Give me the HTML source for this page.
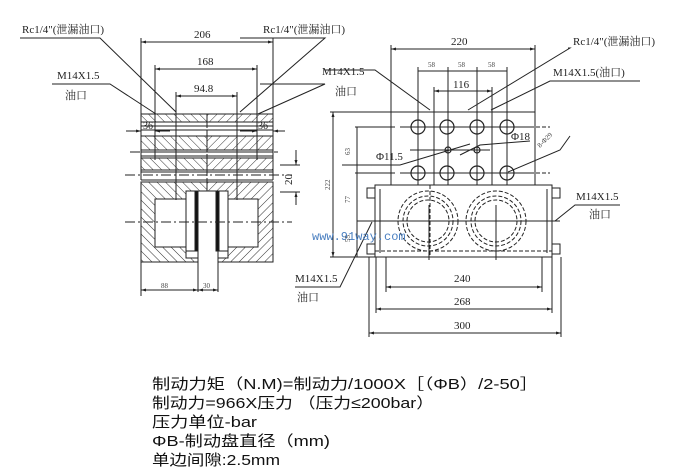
<!DOCTYPE html>
<html><head><meta charset="utf-8"><style>
html,body{margin:0;padding:0;background:#fff;width:693px;height:471px;overflow:hidden}
svg{display:block}
.t{font-family:"Liberation Serif","Noto Serif CJK SC",serif;font-size:11px;fill:#222}
.s{font-family:"Liberation Serif",serif;font-size:7px;fill:#444}
.f{font-family:"Liberation Sans","Noto Sans CJK SC",sans-serif;font-size:15px;fill:#111}
</style></head><body>
<svg width="693" height="471" viewBox="0 0 693 471" xmlns="http://www.w3.org/2000/svg">
<defs>
<pattern id="h1" width="6" height="6" patternUnits="userSpaceOnUse" patternTransform="rotate(45)"><line x1="0" y1="0" x2="0" y2="6" stroke="#333" stroke-width="1"/></pattern>
<pattern id="h2" width="6" height="6" patternUnits="userSpaceOnUse" patternTransform="rotate(-45)"><line x1="0" y1="0" x2="0" y2="6" stroke="#333" stroke-width="1"/></pattern>
<marker id="a" viewBox="0 0 10 10" refX="10" refY="5" markerWidth="7" markerHeight="5" orient="auto-start-reverse"><path d="M0,2 L10,5 L0,8z" fill="#222"/></marker>
</defs>
<g stroke="#222" stroke-width="1" fill="none">
<rect x="141" y="114" width="66" height="8" fill="url(#h2)"/>
<rect x="207" y="114" width="66" height="8" fill="url(#h1)"/>
<rect x="141" y="136" width="66" height="14" fill="url(#h2)"/>
<rect x="207" y="136" width="66" height="14" fill="url(#h1)"/>
<rect x="141" y="158" width="66" height="12" fill="url(#h2)"/>
<rect x="207" y="158" width="66" height="12" fill="url(#h1)"/>
<line x1="141" y1="126" x2="273" y2="126"/><line x1="141" y1="130" x2="273" y2="130"/>
<line x1="141" y1="152" x2="273" y2="152"/><line x1="141" y1="156" x2="273" y2="156"/>
<line x1="141" y1="172" x2="273" y2="172"/><line x1="141" y1="180" x2="273" y2="180"/>
<line x1="141" y1="114" x2="141" y2="180"/><line x1="273" y1="114" x2="273" y2="180"/>
<path d="M141,182 H207 V191 H186 V258 H198 V262 H141 Z" fill="url(#h2)"/>
<path d="M273,182 H207 V191 H228 V258 H218 V262 H273 Z" fill="url(#h1)"/>
<path d="M155,199 H186 V247 H155 Z" fill="#fff"/>
<path d="M228,199 H258 V247 H228 Z" fill="#fff"/>
<rect x="186" y="191" width="9" height="60" fill="#fff"/>
<rect x="219" y="191" width="9" height="60" fill="#fff"/>
<rect x="195" y="191" width="3" height="60" fill="#111"/>
<rect x="216" y="191" width="3" height="60" fill="#111"/>
<line x1="198" y1="250" x2="198" y2="292"/><line x1="218" y1="250" x2="218" y2="292"/>
<line x1="207" y1="114" x2="207" y2="191" stroke-dasharray="6,2"/>
<line x1="125" y1="222" x2="292" y2="222" stroke-dasharray="10,3,2,3"/>
<line x1="125" y1="175" x2="292" y2="175" stroke-dasharray="10,3,2,3"/>
<line x1="130" y1="152" x2="278" y2="152" stroke-dasharray="10,3,2,3"/>
<line x1="176" y1="92" x2="176" y2="200"/><line x1="237" y1="92" x2="237" y2="200"/>
<line x1="155" y1="65" x2="155" y2="160"/><line x1="257" y1="65" x2="257" y2="160"/>
<line x1="141" y1="38" x2="141" y2="114"/><line x1="273" y1="38" x2="273" y2="114"/>
<line x1="141" y1="42" x2="273" y2="42" marker-start="url(#a)" marker-end="url(#a)"/>
<line x1="155" y1="69" x2="257" y2="69" marker-start="url(#a)" marker-end="url(#a)"/>
<line x1="176" y1="96" x2="237" y2="96" marker-start="url(#a)" marker-end="url(#a)"/>
<line x1="126" y1="131" x2="141" y2="131" marker-end="url(#a)"/><line x1="170" y1="131" x2="155" y2="131" marker-end="url(#a)"/>
<line x1="240" y1="131" x2="257" y2="131" marker-end="url(#a)"/><line x1="285" y1="131" x2="273" y2="131" marker-end="url(#a)"/>
<line x1="296" y1="150" x2="296" y2="165" marker-end="url(#a)"/><line x1="296" y1="205" x2="296" y2="192" marker-end="url(#a)"/>
<line x1="280" y1="165" x2="300" y2="165"/><line x1="280" y1="192" x2="300" y2="192"/>
<line x1="141" y1="262" x2="141" y2="296"/>
<line x1="141" y1="290" x2="198" y2="290" marker-start="url(#a)" marker-end="url(#a)"/>
<line x1="198" y1="290" x2="218" y2="290" marker-start="url(#a)" marker-end="url(#a)"/>
<polyline points="20,38 100,38 176,112"/>
<polyline points="52,84 110,84 156,114"/>
<polyline points="240,38 325,38 240,112"/>
<polyline points="260,84 325,84 258,114"/>
<rect x="391" y="112" width="144" height="73"/>
<rect x="375" y="185" width="177" height="72"/>
<line x1="375" y1="185" x2="552" y2="185" stroke-dasharray="4,2"/>
<line x1="375" y1="251" x2="552" y2="251" stroke-dasharray="4,2"/>
<rect x="367" y="188" width="8" height="10"/><rect x="367" y="244" width="8" height="10"/>
<rect x="552" y="188" width="8" height="10"/><rect x="552" y="244" width="8" height="10"/>
<line x1="380" y1="189" x2="380" y2="253"/><line x1="547" y1="189" x2="547" y2="253"/>
<g stroke-dasharray="4,2">
<circle cx="428" cy="221" r="30"/><circle cx="428" cy="221" r="25"/><circle cx="428" cy="221" r="21"/>
<circle cx="496" cy="221" r="30"/><circle cx="496" cy="221" r="25"/><circle cx="496" cy="221" r="21"/>
<line x1="430" y1="185" x2="430" y2="257"/>
</g>
<line x1="357" y1="221" x2="560" y2="221"/>
<line x1="429" y1="205" x2="429" y2="260"/><line x1="496" y1="205" x2="496" y2="260"/>
<g stroke-width="1.2">
<circle cx="418" cy="127" r="7"/><circle cx="447" cy="127" r="7"/><circle cx="477" cy="127" r="7"/><circle cx="507" cy="127" r="7"/>
<circle cx="418" cy="173" r="7"/><circle cx="447" cy="173" r="7"/><circle cx="477" cy="173" r="7"/><circle cx="507" cy="173" r="7"/>
<circle cx="448" cy="150" r="3"/><circle cx="477" cy="150" r="3"/>
</g>
<line x1="355" y1="127" x2="395" y2="127"/><line x1="400" y1="127" x2="530" y2="127"/><line x1="530" y1="127" x2="550" y2="127" stroke-dasharray="4,2"/>
<line x1="355" y1="173" x2="395" y2="173"/><line x1="400" y1="173" x2="530" y2="173"/><line x1="530" y1="173" x2="550" y2="173" stroke-dasharray="4,2"/>
<line x1="410" y1="150" x2="490" y2="150"/>
<line x1="418" y1="67" x2="418" y2="185"/><line x1="448" y1="67" x2="448" y2="185"/><line x1="477" y1="67" x2="477" y2="185"/><line x1="507" y1="67" x2="507" y2="185"/>
<line x1="434" y1="87" x2="434" y2="185"/><line x1="492" y1="87" x2="492" y2="185"/>
<line x1="391" y1="45" x2="391" y2="112"/><line x1="535" y1="45" x2="535" y2="112"/>
<line x1="391" y1="49" x2="535" y2="49" marker-start="url(#a)" marker-end="url(#a)"/>
<line x1="418" y1="71" x2="507" y2="71"/>
<line x1="434" y1="91" x2="492" y2="91" marker-start="url(#a)" marker-end="url(#a)"/>
<line x1="330" y1="112" x2="391" y2="112"/><line x1="330" y1="257" x2="375" y2="257"/>
<line x1="333" y1="112" x2="333" y2="257" marker-start="url(#a)" marker-end="url(#a)"/>
<line x1="357" y1="127" x2="357" y2="257"/>
<line x1="386" y1="257" x2="386" y2="292"/><line x1="542" y1="257" x2="542" y2="292"/>
<line x1="376" y1="257" x2="376" y2="313"/><line x1="552" y1="257" x2="552" y2="313"/>
<line x1="369" y1="257" x2="369" y2="337"/><line x1="561" y1="257" x2="561" y2="337"/>
<line x1="386" y1="287" x2="542" y2="287" marker-start="url(#a)" marker-end="url(#a)"/>
<line x1="376" y1="309" x2="552" y2="309" marker-start="url(#a)" marker-end="url(#a)"/>
<line x1="369" y1="333" x2="561" y2="333" marker-start="url(#a)" marker-end="url(#a)"/>
<polyline points="325,70 375,70 430,110"/>
<polyline points="568,48 570,48 468,110"/>
<polyline points="640,81 550,81 491,110"/>
<polyline points="342,165 400,165 470,144"/>
<polyline points="530,141 480,145 460,155"/>
<polyline points="570,136 560,150 508,172"/>
<polyline points="620,205 575,205 555,221"/>
<polyline points="295,287 340,287 372,222"/>
</g>
<g class="t">
<text x="22" y="33">Rc1/4"(泄漏油口)</text>
<text x="57" y="79">M14X1.5</text><text x="65" y="99">油口</text>
<text x="194" y="38">206</text><text x="197" y="65">168</text><text x="194" y="92">94.8</text>
<text x="143" y="129" font-size="10">36</text><text x="258" y="129" font-size="10">36</text>
<text x="292" y="185" transform="rotate(-90 292 185)">20</text>
<text x="263" y="33">Rc1/4"(泄漏油口)</text>
<text x="322" y="75">M14X1.5</text><text x="335" y="95">油口</text>
<text x="451" y="45">220</text><text x="453" y="88">116</text>
<text x="573" y="45">Rc1/4"(泄漏油口)</text>
<text x="553" y="76">M14X1.5(油口)</text>
<text x="511" y="140">Φ18</text><text x="376" y="160">Φ11.5</text>
<text x="576" y="200">M14X1.5</text><text x="589" y="218">油口</text>
<text x="295" y="282">M14X1.5</text><text x="297" y="301">油口</text>
<text x="454" y="282">240</text><text x="454" y="305">268</text><text x="454" y="329">300</text>
<text x="312" y="240" fill="#4a7fc0" font-size="12" font-family="Liberation Mono,monospace">www.91way.com</text>
</g>
<g class="s">
<text x="161" y="288">88</text><text x="203" y="288">30</text>
<text x="428" y="67">58</text><text x="458" y="67">58</text><text x="488" y="67">58</text>
<text x="350" y="155" transform="rotate(-90 350 155)">63</text>
<text x="350" y="203" transform="rotate(-90 350 203)">77</text>
<text x="350" y="242" transform="rotate(-90 350 242)">55</text>
<text x="330" y="190" transform="rotate(-90 330 190)">222</text>
<text x="540" y="148" transform="rotate(-45 540 148)">8-Φ29</text>
</g>
<g class="f">
<text x="152" y="389" textLength="386" lengthAdjust="spacingAndGlyphs">制动力矩（N.M)=制动力/1000X［（ΦB）/2-50］</text>
<text x="152" y="408" textLength="282" lengthAdjust="spacingAndGlyphs">制动力=966X压力 （压力≤200bar）</text>
<text x="152" y="427" textLength="105" lengthAdjust="spacingAndGlyphs">压力单位-bar</text>
<text x="152" y="446" textLength="178" lengthAdjust="spacingAndGlyphs">ΦB-制动盘直径（mm)</text>
<text x="152" y="465" textLength="128" lengthAdjust="spacingAndGlyphs">单边间隙:2.5mm</text>
</g>
</svg>
</body></html>
